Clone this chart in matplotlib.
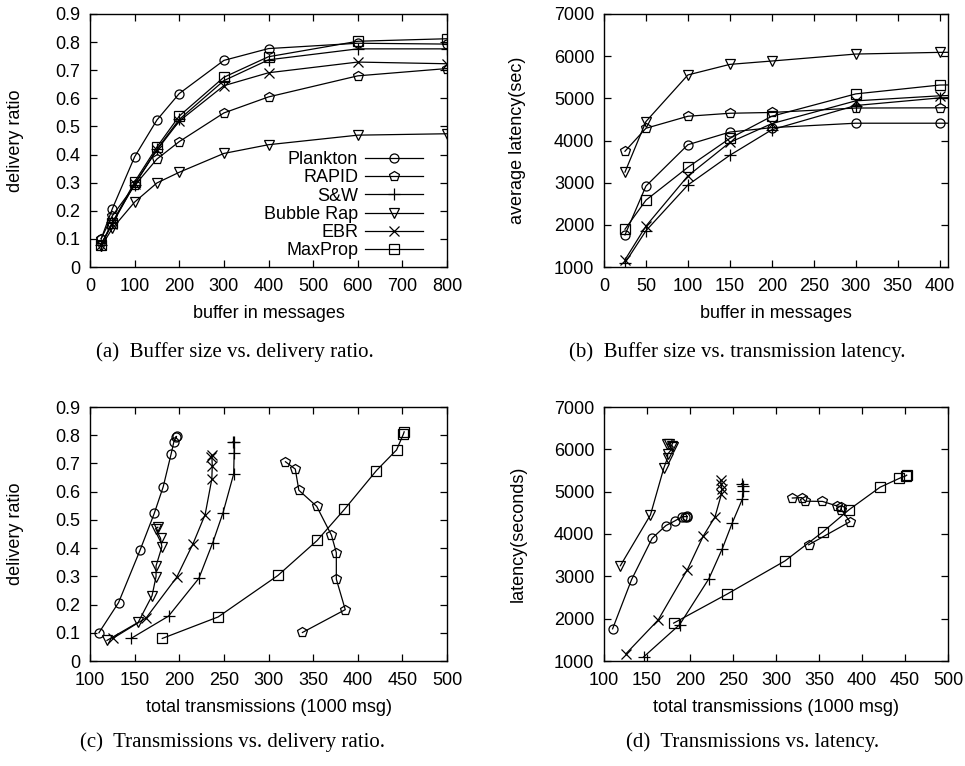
import matplotlib
matplotlib.use("Agg")
import matplotlib.pyplot as plt

plt.rcParams["font.family"] = ["Liberation Sans", "DejaVu Sans"]

# buffer sizes (messages) used in every experiment
buffer_sizes = [25, 50, 100, 150, 200, 300, 400, 600, 800]

protocols = ["Plankton", "RAPID", "S&W", "Bubble Rap", "EBR", "MaxProp"]

# delivery ratio per buffer size
ratio_plankton = [0.100, 0.207, 0.392, 0.523, 0.617, 0.735, 0.777, 0.796, 0.793]
ratio_rapid = [0.101, 0.182, 0.290, 0.384, 0.446, 0.548, 0.605, 0.680, 0.706]
ratio_sw = [0.080, 0.159, 0.293, 0.419, 0.525, 0.663, 0.737, 0.776, 0.776]
ratio_bubble = [0.073, 0.137, 0.231, 0.299, 0.337, 0.404, 0.435, 0.469, 0.474]
ratio_ebr = [0.080, 0.153, 0.296, 0.416, 0.519, 0.645, 0.691, 0.729, 0.723]
ratio_maxprop = [0.080, 0.156, 0.303, 0.427, 0.537, 0.675, 0.748, 0.803, 0.812]

# average latency (seconds) per buffer size
latency_plankton = [1760, 2920, 3900, 4200, 4305, 4410, 4410, 4415, 4410]
latency_rapid = [3745, 4290, 4575, 4646, 4665, 4770, 4775, 4860, 4850]
latency_sw = [1095, 1860, 2945, 3650, 4255, 4830, 5010, 5130, 5190]
latency_bubble = [3250, 4450, 5555, 5805, 5885, 6050, 6090, 6120, 6130]
latency_ebr = [1170, 1970, 3160, 3955, 4400, 4940, 5060, 5170, 5265]
latency_maxprop = [1895, 2585, 3365, 4050, 4575, 5105, 5315, 5375, 5390]

# total transmissions (1000 msg) per buffer size
tx_plankton = [110, 132, 156, 172, 182, 191, 194, 197, 196]
tx_rapid = [338, 386, 376, 376, 370.5, 354, 334, 330, 319]
tx_sw = [146, 188, 222, 237.5, 249, 261, 261.5, 261.5, 260]
tx_bubble = [119, 154, 169.5, 174, 174, 180.5, 179, 173.5, 176]
tx_ebr = [125.5, 163, 197, 215.5, 229, 236.5, 237, 236.5, 235.5]
tx_maxprop = [181, 243.5, 310.5, 354.5, 385, 421, 443.5, 451, 452]

ratio_ticks = [0, 0.1, 0.2, 0.3, 0.4, 0.5, 0.6, 0.7, 0.8, 0.9]
ratio_tick_labels = ["0", "0.1", "0.2", "0.3", "0.4", "0.5", "0.6", "0.7", "0.8", "0.9"]
latency_ticks = [1000, 2000, 3000, 4000, 5000, 6000, 7000]
buffer_ticks_a = [0, 100, 200, 300, 400, 500, 600, 700, 800]
buffer_ticks_b = [0, 50, 100, 150, 200, 250, 300, 350, 400]
tx_ticks = [100, 150, 200, 250, 300, 350, 400, 450, 500]

ratios = [ratio_plankton, ratio_rapid, ratio_sw, ratio_bubble, ratio_ebr, ratio_maxprop]
latencies = [latency_plankton, latency_rapid, latency_sw, latency_bubble, latency_ebr, latency_maxprop]
transmissions = [tx_plankton, tx_rapid, tx_sw, tx_bubble, tx_ebr, tx_maxprop]

marker_styles = [
    dict(marker="o", markersize=6.5),
    dict(marker="p", markersize=7),
    dict(marker="+", markersize=8),
    dict(marker="v", markersize=7),
    dict(marker="x", markersize=6.5),
    dict(marker="s", markersize=6.5),
]

W, H = 965, 766
fig = plt.figure(figsize=(W / 100, H / 100), dpi=100)


def px_axes(x0, y0, x1, y1):
    return fig.add_axes([x0 / W, 1 - y1 / H, (x1 - x0) / W, (y1 - y0) / H])


def style_axes(ax):
    for s in ax.spines.values():
        s.set_linewidth(1.0)
        s.set_color("black")
    ax.tick_params(direction="in", length=5, width=0.9, top=True, right=True,
                   labelsize=13, colors="black")
    ax.tick_params(axis="y", pad=7)
    ax.tick_params(axis="x", pad=8)


def draw(ax, xs_list, ys_list, labels=True):
    for name, xs, ys, ms in zip(protocols, xs_list, ys_list, marker_styles):
        ax.plot(xs, ys, color="black", linewidth=0.9,
                markerfacecolor="none", markeredgecolor="black",
                markeredgewidth=0.9, label=name if labels else None, **ms)


def set_labels(ax, xlabel, ylabel, xpos_px, ax_left, ax_width, ylab_px, ax_bottom, ax_height):
    ax.set_xlabel(xlabel, fontsize=13)
    ax.set_ylabel(ylabel, fontsize=13)
    ax.xaxis.set_label_coords(0.5, (ax_bottom - ylab_px) / ax_height)
    ax.xaxis.label.set_va("center")
    ax.yaxis.set_label_coords((xpos_px - ax_left) / ax_width, 0.5)
    ax.yaxis.label.set_va("center")


# (a) buffer vs delivery ratio
ax_a = px_axes(90, 14, 447, 267)
draw(ax_a, [buffer_sizes] * 6, ratios)
ax_a.set_xlim(0, 800)
ax_a.set_ylim(0, 0.9)
ax_a.set_xticks(buffer_ticks_a)
ax_a.set_yticks(ratio_ticks)
ax_a.set_yticklabels(ratio_tick_labels)
style_axes(ax_a)
set_labels(ax_a, "buffer in messages", "delivery ratio", 16, 90, 357, 314, 267, 253)
ax_a.legend(loc="lower right", bbox_to_anchor=(0.933, 0.03), frameon=False,
            markerfirst=False, fontsize=13, handlelength=3.2, handletextpad=0.4,
            labelspacing=0.07, borderpad=0, borderaxespad=0, numpoints=1)

# (b) buffer vs latency
ax_b = px_axes(604, 14, 948, 267)
draw(ax_b, [buffer_sizes] * 6, latencies, labels=False)
ax_b.set_xlim(0, 410)
ax_b.set_ylim(1000, 7000)
ax_b.set_xticks(buffer_ticks_b)
ax_b.set_yticks(latency_ticks)
style_axes(ax_b)
set_labels(ax_b, "buffer in messages", "average latency(sec)", 518, 604, 344, 314, 267, 253)

# (c) transmissions vs delivery ratio
ax_c = px_axes(90, 407, 447, 661)
draw(ax_c, transmissions, ratios, labels=False)
ax_c.set_xlim(100, 500)
ax_c.set_ylim(0, 0.9)
ax_c.set_xticks(tx_ticks)
ax_c.set_yticks(ratio_ticks)
ax_c.set_yticklabels(ratio_tick_labels)
style_axes(ax_c)
set_labels(ax_c, "total transmissions (1000 msg)", "delivery ratio", 16, 90, 357, 707, 661, 254)

# (d) transmissions vs latency
ax_d = px_axes(604, 407, 948, 661)
draw(ax_d, transmissions, latencies, labels=False)
ax_d.set_xlim(100, 500)
ax_d.set_ylim(1000, 7000)
ax_d.set_xticks(tx_ticks)
ax_d.set_yticks(latency_ticks)
style_axes(ax_d)
set_labels(ax_d, "total transmissions (1000 msg)", "latency(seconds)", 518, 604, 344, 707, 661, 254)

captions = [
    ("(a)  Buffer size vs. delivery ratio.", 235, 352),
    ("(b)  Buffer size vs. transmission latency.", 737, 352),
    ("(c)  Transmissions vs. delivery ratio.", 232, 742),
    ("(d)  Transmissions vs. latency.", 753, 742),
]
for text, cx, cy in captions:
    fig.text(cx / W, 1 - cy / H, text, ha="center", va="center",
             fontsize=15, family=["Liberation Serif", "DejaVu Serif"])

fig.savefig("out.png", dpi=100)
